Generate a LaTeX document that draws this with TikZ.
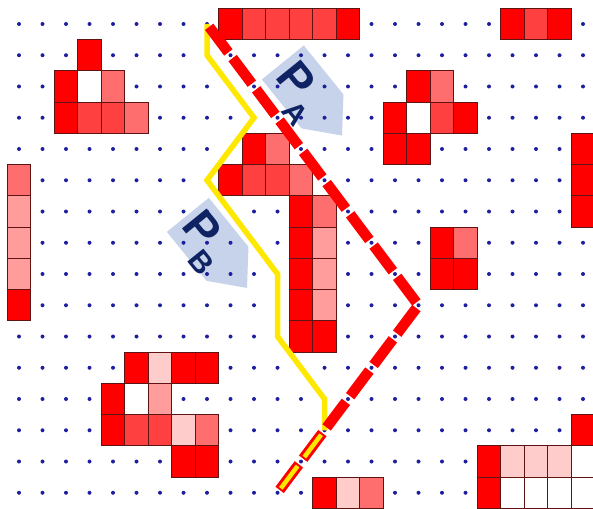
\documentclass[tikz,border=0pt]{standalone}
\usepackage{fontspec}
\setmainfont{Liberation Sans}
\usetikzlibrary{positioning}
\definecolor{clred}{RGB}{255,0,0}
\definecolor{clmid}{RGB}{255,64,64}
\definecolor{clsalmon}{RGB}{255,110,110}
\definecolor{clrose}{RGB}{255,156,156}
\definecolor{clpink}{RGB}{255,204,204}
\definecolor{clborder}{RGB}{95,20,20}
\definecolor{cldot}{RGB}{30,30,160}
\definecolor{clyellow}{RGB}{255,232,0}
\definecolor{cltag}{RGB}{198,211,234}
\definecolor{clnavy}{RGB}{15,35,100}
\begin{document}
\begin{tikzpicture}[x=23.5pt, y=-31.25pt,
  cell/.style={draw=clborder, line width=0.8pt},
  tag/.style={rotate=-51, inner sep=0pt, text=clnavy, font=\fontsize{46}{46}\selectfont\bfseries}]
\fill[white] (-0.8085,-0.768) rectangle (24.4255,15.488);
\useasboundingbox (-0.8085,-0.768) rectangle (24.4255,15.488);
% Label backgrounds
\fill[cltag, shift={(12.485,2.4)}, rotate=-51] (-47pt,-27pt) -- (16pt,-27pt) -- (47pt,0pt) -- (16pt,27pt) -- (-47pt,27pt) -- cycle;
\fill[cltag, shift={(8.443,7.277)}, rotate=-51] (-47pt,-27pt) -- (16pt,-27pt) -- (47pt,0pt) -- (16pt,27pt) -- (-47pt,27pt) -- cycle;
% Grid points
\foreach \x in {0,...,24} {
  \foreach \y in {0,...,15} {
    \fill[cldot] (\x,\y) circle (2pt);
  }
}
% Obstacles
\foreach \x/\y/\c in {3/1/clred, 2/2/clred, 3/2/white, 4/2/clsalmon, 2/3/clred, 3/3/clmid, 4/3/clmid, 5/3/clsalmon,
    9/0/clred, 10/0/clmid, 11/0/clmid, 12/0/clmid, 13/0/clmid, 14/0/clred,
    21/0/clred, 22/0/clmid, 23/0/clred,
    17/2/clred, 18/2/clsalmon, 16/3/clred, 17/3/white, 18/3/clmid, 19/3/clred, 16/4/clred, 17/4/clred,
    24/4/clred, 24/5/clred, 24/6/clred,
    0/5/clsalmon, 0/6/clrose, 0/7/clrose, 0/8/clrose, 0/9/clred,
    10/4/clred, 11/4/clsalmon, 9/5/clred, 10/5/clmid, 11/5/clmid, 12/5/clsalmon,
    12/6/clred, 13/6/clsalmon, 12/7/clred, 13/7/clrose, 12/8/clred, 13/8/clrose,
    12/9/clred, 13/9/clrose, 12/10/clred, 13/10/clred,
    18/7/clred, 19/7/clsalmon, 18/8/clred, 19/8/clred,
    5/11/clred, 6/11/clpink, 7/11/clred, 8/11/clred, 4/12/clred, 5/12/white, 6/12/clrose,
    4/13/clred, 5/13/clmid, 6/13/clmid, 7/13/clpink, 8/13/clsalmon, 7/14/clred, 8/14/clred,
    13/15/clred, 14/15/clpink, 15/15/clsalmon,
    24/13/clred, 20/14/clred, 21/14/clpink, 22/14/clpink, 23/14/clpink, 24/14/white,
    20/15/clred, 21/15/white, 22/15/white, 23/15/white, 24/15/white} {
  \filldraw[cell, fill=\c] (\x-0.5,\y-0.5) rectangle (\x+0.5,\y+0.5);
}
% Labels
\node[tag] (pa) at (11.8,2.2) {P\raisebox{-17pt}{\fontsize{30}{30}\selectfont A}};
\node[tag] (pb) at (7.8,6.97) {P\raisebox{-17pt}{\fontsize{30}{30}\selectfont B}};
% Paths
\coordinate (start) at (8,0);
\coordinate (merge) at (13,13);
\coordinate (goal) at (11,15);
\draw[clyellow, line width=5.5pt] (start) -- (8,1) -- (10,3) -- (8,5) -- (11,8) -- (11,10) -- (13,12) -- (merge);
\draw[clred, line width=10.5pt, dash pattern=on 32pt off 7.1pt, dash phase=35.55pt] (start) -- (17,9) -- (goal);
\draw[clyellow, line width=4.5pt, dash pattern=on 28pt off 11.1pt, dash phase=33.55pt] (merge) -- (goal);
\end{tikzpicture}
\end{document}
